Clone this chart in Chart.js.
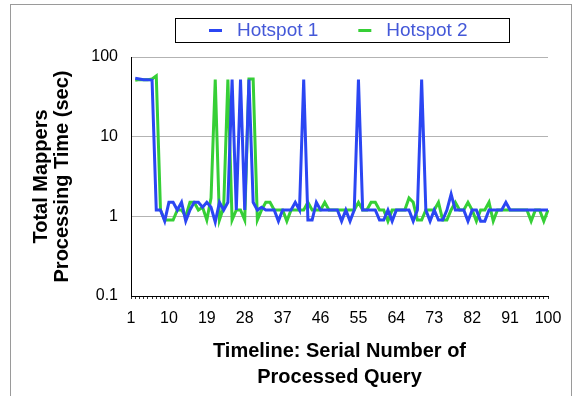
<!DOCTYPE html>
<html>
<head>
<meta charset="utf-8">
<script src="https://cdn.jsdelivr.net/npm/chart.js@4.4.1/dist/chart.umd.min.js"></script>
<style>
html, body { margin: 0; padding: 0; background: #fff; }
</style>
</head>
<body>
<canvas id="myChart" width="579" height="396"></canvas>
<script>
"use strict";

// categories 1..100 (serial number of processed query)
var queries = [];
for (var q = 1; q <= 100; q++) queries.push(String(q));

var xTickLabels = ['1', '10', '19', '28', '37', '46', '55', '64', '73', '82', '91', '100'];
var yTickValues = [0.1, 1, 10, 100];

var seriesNames = ['Hotspot 1', 'Hotspot 2'];

var hotspot1 = [
    null, 54, 53, 52, 52, 51, 1.2, 1.2, 0.87, 1.5,
    1.5, 1.2, 1.5, 0.87, 1.2, 1.5, 1.5, 1.3, 1.5, 1.3,
    0.85, 1.5, 1.2, 1.5, 52, 1.2, 52, 1.2, 52, 1.5,
    1.2, 1.3, 1.2, 1.2, 1.2, 0.87, 1.2, 1.2, 1.2, 1.5,
    1.2, 52, 0.9, 0.9, 1.5, 1.2, 1.2, 1.2, 1.2, 1.2,
    0.87, 1.2, 0.87, 1.2, 52, 1.2, 1.2, 1.2, 1.2, 0.9,
    0.9, 1.2, 0.87, 1.2, 1.2, 1.2, 1.2, 0.87, 1.2, 52,
    1.2, 0.87, 1.2, 0.9, 0.9, 1.2, 1.9, 1.2, 1.2, 1.2,
    0.87, 1.2, 1.2, 0.87, 0.87, 1.2, 1.2, 1.2, 1.2, 1.5,
    1.2, 1.2, 1.2, 1.2, 1.2, 1.2, 1.2, 1.2, 1.2, 1.2
];

var hotspot2 = [
    null, 51, 52, 52, 52, 53, 58, 1.2, 0.9, 0.9,
    0.9, 1.2, 1.2, 1.0, 1.5, 1.5, 1.2, 1.3, 0.9, 1.7,
    52, 0.9, 1.3, 52, 0.9, 1.2, 1.2, 0.9, 53, 53,
    0.9, 1.2, 1.5, 1.5, 1.2, 1.2, 1.2, 0.87, 1.2, 1.2,
    1.2, 1.2, 1.5, 1.2, 1.2, 1.2, 1.5, 1.2, 1.2, 1.2,
    1.2, 1.2, 1.2, 1.2, 1.5, 1.2, 1.2, 1.5, 1.5, 1.2,
    1.2, 0.87, 1.2, 1.2, 1.2, 1.2, 1.7, 1.5, 0.9, 0.9,
    1.2, 1.2, 1.2, 1.5, 0.9, 0.9, 1.2, 1.5, 1.2, 1.2,
    1.5, 1.2, 0.87, 1.2, 1.2, 1.5, 0.87, 1.2, 1.2, 1.2,
    1.2, 1.2, 1.2, 1.2, 1.2, 0.87, 1.2, 1.2, 0.87, 1.2
];

var seriesColors = ['#2b46f3', '#36cf36'];

Chart.defaults.font.family = "'Liberation Sans', Arial, sans-serif";
Chart.defaults.color = '#000';

// outer frame + boxed legend, drawn like the original spreadsheet chart
var frameLegend = {
    id: 'frameLegend',
    beforeDraw: function (chart) {
        var c = chart.ctx;
        c.save();
        c.fillStyle = '#fff';
        c.fillRect(0, 0, chart.width, chart.height);
        c.strokeStyle = '#9a9a9a';
        c.lineWidth = 1;
        c.strokeRect(10.5, 4.5, 561, 420);
        c.restore();
    },
    afterDraw: function (chart) {
        var c = chart.ctx;
        c.save();
        c.strokeStyle = '#000';
        c.lineWidth = 1;
        c.strokeRect(175.5, 18.5, 334, 24);
        c.font = "19px 'Liberation Sans', Arial, sans-serif";
        c.textBaseline = 'middle';
        var x = 209;
        chart.data.datasets.forEach(function (ds) {
            c.strokeStyle = ds.borderColor;
            c.lineWidth = 3;
            c.beginPath();
            c.moveTo(x, 30.5);
            c.lineTo(x + 13, 30.5);
            c.stroke();
            c.fillStyle = '#4458d8';
            c.fillText(ds.label, x + 28, 31);
            x += 28 + c.measureText(ds.label).width + 40;
        });
        c.restore();
    }
};

var ctx = document.getElementById('myChart').getContext('2d');

var myChart = new Chart(ctx, {
    type: 'line',
    data: {
        labels: queries,
        datasets: [{
            label: seriesNames[0],
            data: hotspot1,
            borderColor: seriesColors[0],
            backgroundColor: seriesColors[0],
            borderWidth: 3,
            pointRadius: 0,
            tension: 0
        }, {
            label: seriesNames[1],
            data: hotspot2,
            borderColor: seriesColors[1],
            backgroundColor: seriesColors[1],
            borderWidth: 3,
            pointRadius: 0,
            tension: 0
        }]
    },
    options: {
        responsive: false,
        animation: false,
        devicePixelRatio: 1,
        layout: { padding: { left: 20, right: 31, top: 57, bottom: 0 } },
        plugins: {
            legend: { display: false },
            tooltip: { enabled: false }
        },
        scales: {
            x: {
                type: 'category',
                offset: false,
                afterFit: function (s) { s.height = 100; },
                grid: { drawOnChartArea: false, drawTicks: true, tickLength: 3, color: '#333' },
                border: { color: '#000', width: 1 },
                ticks: {
                    autoSkip: false,
                    maxRotation: 0,
                    padding: 10,
                    font: { size: 16 },
                    callback: function (val) {
                        var lab = this.getLabelForValue(val);
                        return xTickLabels.indexOf(lab) >= 0 ? lab : '';
                    }
                },
                title: {
                    display: true,
                    text: ['Timeline: Serial Number of', 'Processed Query'],
                    font: { size: 20, weight: 'bold', lineHeight: 1.3 },
                    padding: { top: 0, bottom: 6 }
                }
            },
            y: {
                type: 'logarithmic',
                min: 0.1,
                max: 100,
                afterFit: function (s) { s.width = 111; },
                afterBuildTicks: function (s) {
                    s.ticks = yTickValues.map(function (v) { return { value: v }; });
                },
                grid: { color: '#b3b3b3', drawTicks: false },
                border: { color: '#000', width: 1 },
                ticks: {
                    padding: 13,
                    font: { size: 16 },
                    callback: function (v) { return String(v); }
                },
                title: {
                    display: true,
                    text: ['Total Mappers', 'Processing Time (sec)'],
                    font: { size: 20, weight: 'bold', lineHeight: 1.05 },
                    padding: { top: 11, bottom: 0 }
                }
            }
        }
    },
    plugins: [frameLegend]
});
</script>
</body>
</html>
